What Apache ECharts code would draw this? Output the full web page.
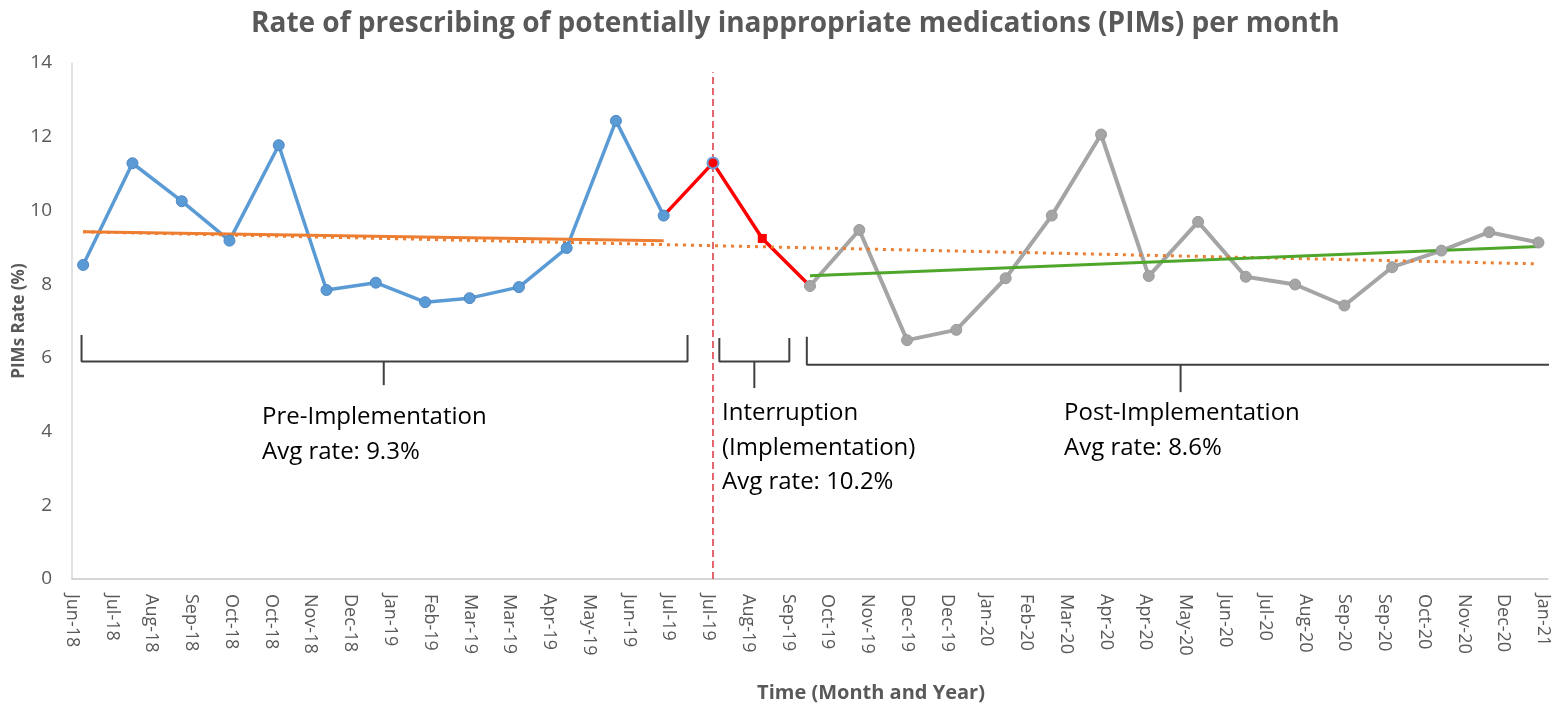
<!DOCTYPE html>
<html>
<head>
<meta charset="utf-8">
<title>PIMs rate per month</title>
<script src="https://cdn.jsdelivr.net/npm/echarts@6/dist/echarts.min.js"></script>
<style>
  html, body { margin: 0; padding: 0; background: #fff; }
  #chart { width: 1561px; height: 717px; }
</style>
</head>
<body>
<div id="chart"></div>
<script>
// x axis counts days from 24 Jun 2018 (first tick), one tick every 25 days
const DAY0 = Date.UTC(2018, 5, 24);
const toDay = (s) => {
  const p = s.split('-').map(Number);
  return Math.round((Date.UTC(p[0], p[1] - 1, p[2] || 1) - DAY0) / 86400000);
};

const tickLabels = [
  'Jun-18', 'Jul-18', 'Aug-18', 'Sep-18', 'Oct-18', 'Oct-18', 'Nov-18', 'Dec-18', 'Jan-19',
  'Feb-19', 'Mar-19', 'Mar-19', 'Apr-19', 'May-19', 'Jun-19', 'Jul-19', 'Jul-19', 'Aug-19',
  'Sep-19', 'Oct-19', 'Nov-19', 'Dec-19', 'Dec-19', 'Jan-20', 'Feb-20', 'Mar-20', 'Apr-20',
  'Apr-20', 'May-20', 'Jun-20', 'Jul-20', 'Aug-20', 'Sep-20', 'Sep-20', 'Oct-20', 'Nov-20',
  'Dec-20', 'Jan-21'
];

// pre-implementation
const preMonths = ['2018-07', '2018-08', '2018-09', '2018-10', '2018-11', '2018-12', '2019-01',
  '2019-02', '2019-03', '2019-04', '2019-05', '2019-06', '2019-07'];
const preRates = [8.52, 11.28, 10.25, 9.18, 11.77, 7.84, 8.04, 7.51, 7.62, 7.92, 8.98, 12.43, 9.86];

// interruption (implementation)
const interMonths = ['2019-07', '2019-08', '2019-09', '2019-10'];
const interRates = [9.86, 11.29, 9.24, 7.95];

// post-implementation
const postMonths = ['2019-10', '2019-11', '2019-12', '2020-01', '2020-02', '2020-03', '2020-04',
  '2020-05', '2020-06', '2020-07', '2020-08', '2020-09', '2020-10', '2020-11', '2020-12', '2021-01'];
const postRates = [7.95, 9.47, 6.48, 6.76, 8.16, 9.86, 12.06, 8.22, 9.69, 8.20, 7.99, 7.42, 8.46, 8.91, 9.41, 9.13];

// trend lines (end points)
const preTrendMonths = ['2018-07', '2019-07'];
const preTrend = [9.42, 9.18];
const allTrendMonths = ['2018-07', '2021-01'];
const allTrend = [9.42, 8.55];
const postTrendMonths = ['2019-10', '2021-01'];
const postTrend = [8.23, 9.02];

// implementation start marker
const implDate = '2019-08-01';
const implTop = 13.75;

// phase brackets
const brackets = [
  { from: '2018-06-30', to: '2019-07-16', mid: '2019-01-06', top: 6.62, base: 5.9, tick: 5.26 },
  { from: '2019-08-05', to: '2019-09-18', mid: '2019-08-27', top: 6.54, base: 5.9, tick: 5.18 },
  { from: '2019-09-29', to: '2021-01-10', mid: '2020-05-21', top: 6.57, base: 5.81, tick: 5.07 }
];

const pairs = (months, vals) => months.map((m, i) => [toDay(m), vals[i]]);

const font = '"Open Sans", "Noto Sans", sans-serif';
const gray = '#595959';

let chart = echarts.init(document.getElementById('chart'));

let bracketSeries = [];
brackets.forEach(b => {
  bracketSeries.push({
    type: 'line',
    data: [[toDay(b.from), b.top], [toDay(b.from), b.base], [toDay(b.to), b.base], [toDay(b.to), b.top]],
    symbol: 'none',
    clip: false,
    lineStyle: { color: '#404040', width: 2 },
    z: 1
  });
  // centre tick under the bracket
  bracketSeries.push({
    type: 'line',
    data: [[toDay(b.mid), b.base], [toDay(b.mid), b.tick]],
    symbol: 'none',
    clip: false,
    lineStyle: { color: '#404040', width: 2 },
    z: 1
  });
});

let option = {
  animation: false,
  title: {
    text: 'Rate of prescribing of potentially inappropriate medications (PIMs) per month',
    left: 246,
    top: 5,
    textStyle: { color: gray, fontSize: 28, fontWeight: 'bold', fontFamily: font }
  },
  grid: { left: 72, right: 13, top: 63, bottom: 138, containLabel: false, outerBoundsMode: 'none' },
  xAxis: {
    type: 'value',
    min: 0,
    max: 928,
    interval: 25,
    name: 'Time (Month and Year)',
    nameLocation: 'middle',
    nameGap: 104,
    nameTextStyle: { color: gray, fontSize: 20, fontWeight: 'bold', fontFamily: font, padding: [0, 0, 0, 122] },
    axisLine: { show: true, onZero: false, lineStyle: { color: '#c8c8c8', width: 1.5 } },
    axisTick: { show: false },
    splitLine: { show: false },
    axisLabel: {
      rotate: -90,
      margin: 15,
      color: gray,
      fontSize: 18,
      fontFamily: font,
      formatter: (v) => {
        let k = Math.round(v / 25);
        return Math.abs(v - k * 25) < 1e-6 ? (tickLabels[k] || '') : '';
      }
    }
  },
  yAxis: {
    type: 'value',
    min: 0,
    max: 14,
    interval: 2,
    name: 'PIMs Rate (%)',
    nameLocation: 'middle',
    nameGap: 44,
    nameMoveOverlap: false,
    nameTextStyle: { color: gray, fontSize: 17, fontWeight: 'bold', fontFamily: font },
    axisLine: { show: true, lineStyle: { color: '#d9d9d9', width: 1.5 } },
    axisTick: { show: false },
    splitLine: { show: false },
    axisLabel: { color: gray, fontSize: 19, fontFamily: font, margin: 20 }
  },
  graphic: [
    {
      type: 'text', left: 262, top: 400,
      style: { text: 'Pre-Implementation\nAvg rate: 9.3%', font: '24px ' + font, lineHeight: 35, fill: '#000' }
    },
    {
      type: 'text', left: 722, top: 396,
      style: { text: 'Interruption\n(Implementation)\nAvg rate: 10.2%', font: '24px ' + font, lineHeight: 34.5, fill: '#000' }
    },
    {
      type: 'text', left: 1064, top: 396,
      style: { text: 'Post-Implementation\nAvg rate: 8.6%', font: '24px ' + font, lineHeight: 34.5, fill: '#000' }
    }
  ],
  series: [
    ...bracketSeries,
    {
      // start of implementation
      type: 'line',
      data: [[toDay(implDate), 0], [toDay(implDate), implTop]],
      symbol: 'none',
      lineStyle: { color: '#dc3540', width: 1.5, type: [7, 4] },
      z: 1
    },
    {
      name: 'Interruption',
      type: 'line',
      data: pairs(interMonths, interRates).map((d, i) => ({
        value: d,
        symbol: i == 1 ? 'circle' : (i == 2 ? 'rect' : 'none'),
        symbolSize: i == 1 ? 11 : 9,
        itemStyle: i == 1 ? { color: '#ff0000', borderColor: '#6d9bd3', borderWidth: 2 } : { color: '#ff0000' }
      })),
      showAllSymbol: true,
      lineStyle: { color: '#ff0000', width: 3.5 }
    },
    {
      name: 'Pre-Implementation',
      type: 'line',
      data: pairs(preMonths, preRates),
      symbol: 'circle',
      symbolSize: 11,
      showAllSymbol: true,
      itemStyle: { color: '#5b9bd5', borderColor: '#4f86c2', borderWidth: 1 },
      lineStyle: { color: '#5b9bd5', width: 3.5 }
    },
    {
      name: 'Post-Implementation',
      type: 'line',
      data: pairs(postMonths, postRates),
      symbol: 'circle',
      symbolSize: 11,
      showAllSymbol: true,
      itemStyle: { color: '#a5a5a5', borderColor: '#999999', borderWidth: 1 },
      lineStyle: { color: '#a5a5a5', width: 4 }
    },
    {
      name: 'Trend (all)',
      type: 'line',
      data: pairs(allTrendMonths, allTrend),
      symbol: 'none',
      lineStyle: { color: '#ed7d31', width: 3, type: [3, 5] },
      z: 3
    },
    {
      name: 'Trend (pre)',
      type: 'line',
      data: pairs(preTrendMonths, preTrend),
      symbol: 'none',
      lineStyle: { color: '#ed7d31', width: 3 },
      z: 3
    },
    {
      name: 'Trend (post)',
      type: 'line',
      data: pairs(postTrendMonths, postTrend),
      symbol: 'none',
      lineStyle: { color: '#4ea72a', width: 3 },
      z: 3
    }
  ]
};
chart.setOption(option);
</script>
</body>
</html>
